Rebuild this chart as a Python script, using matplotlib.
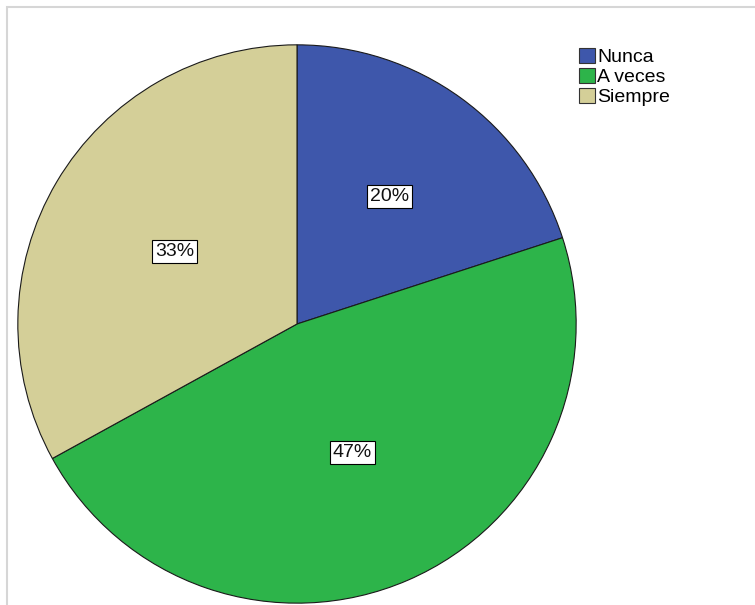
import numpy as np
import matplotlib.pyplot as plt
from matplotlib.patches import Rectangle

# Data
labels = ["Nunca", "A veces", "Siempre"]
shares = [20, 47, 33]
colors = ["#3e57ab", "#2db44a", "#d4cf98"]
label_dist = [0.565, 0.50, 0.51]  # radial position of the % boxes

plt.rcParams['font.family'] = ['Liberation Sans', 'DejaVu Sans']

fig = plt.figure(figsize=(7.55, 6.05), dpi=100)

# light grey frame around the chart area
fig.patches.append(Rectangle((7 / 755, -0.05), 1.2, 1 - 7 / 605 + 0.05,
                             transform=fig.transFigure, fill=False,
                             edgecolor="#d6d6d6", linewidth=1.5))

ax = fig.add_axes([17 / 755, 1 / 605, 560 / 755, 560 / 605])
wedges, texts, autotexts = ax.pie(
    shares, colors=colors, startangle=90, counterclock=False,
    autopct="%d%%", pctdistance=0.53,
    wedgeprops=dict(edgecolor="#1a1a1a", linewidth=0.8),
    textprops=dict(fontsize=14, color="#111111"))
for w, t, d in zip(wedges, autotexts, label_dist):
    ang = np.deg2rad((w.theta1 + w.theta2) / 2)
    t.set_position((d * np.cos(ang), d * np.sin(ang)))
    t.set_bbox(dict(facecolor="white", edgecolor="black", linewidth=0.8,
                    boxstyle="square,pad=0.15"))
ax.set_xlim(-1.003, 1.003)
ax.set_ylim(-1.003, 1.003)
ax.set_aspect("equal")

fig.legend(wedges, labels, loc="upper left", bbox_to_anchor=(575 / 755, 1 - 44 / 605),
           frameon=False, fontsize=14, handlelength=0.85, handleheight=0.8,
           handletextpad=0.1, labelspacing=0.1, borderaxespad=0, borderpad=0.2)
for h in fig.legends[0].legend_handles:
    h.set_edgecolor("#333333")
    h.set_linewidth(0.8)

plt.savefig("out.png", dpi=100)
